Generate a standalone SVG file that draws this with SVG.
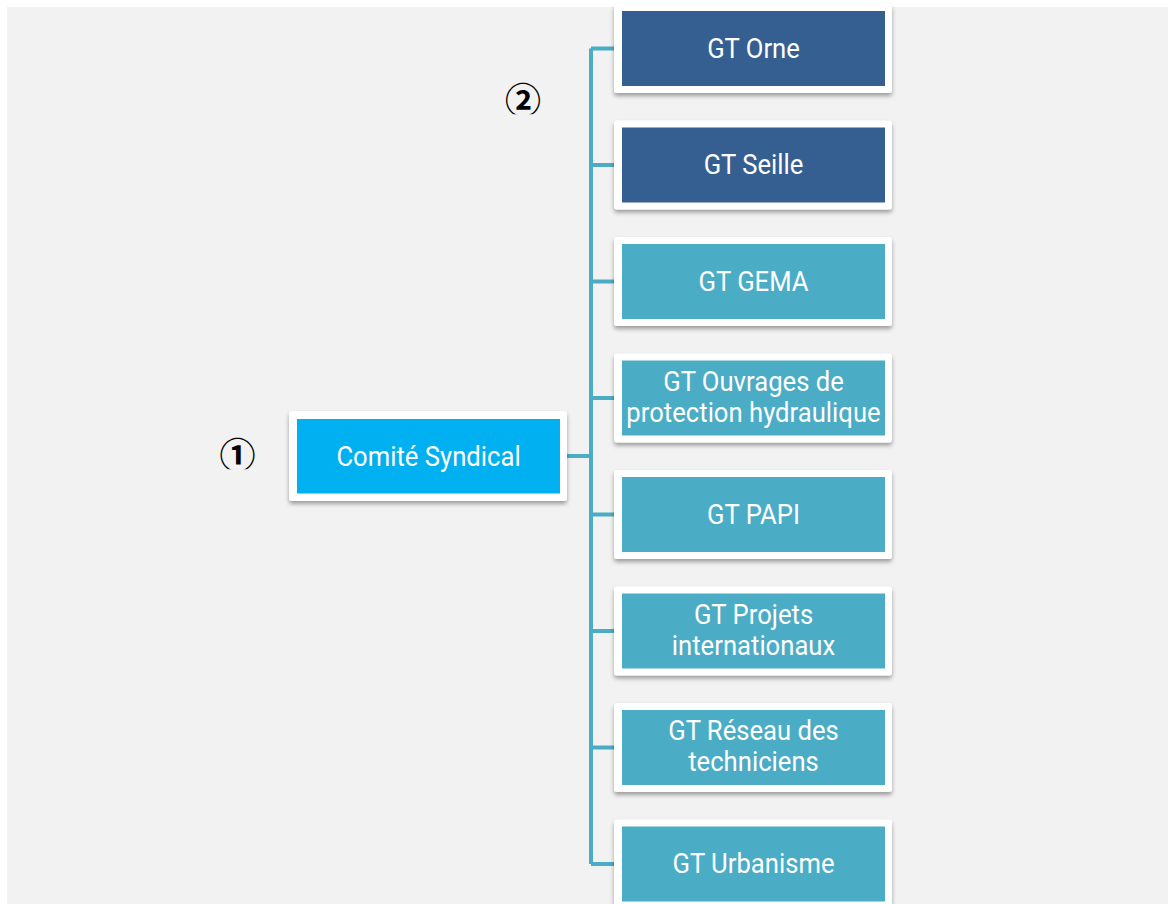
<svg xmlns="http://www.w3.org/2000/svg" width="1168" height="904" viewBox="0 0 1168 904">
<defs>
<style>
.frame{fill:#ffffff;filter:url(#sh)}
.dark{fill:#365f91}
.light{fill:#4bacc6}
.top{fill:#00b0f0}
.lbl{font-family:Roboto,"Liberation Sans",sans-serif;font-size:27px;fill:#ffffff;text-anchor:middle}
.num{font-family:"Noto Sans CJK SC","DejaVu Sans",sans-serif;font-size:36px;font-weight:bold;fill:#000000;text-anchor:middle}
.con{fill:none;stroke:#4bacc6;stroke-width:4}
</style>
<filter id="sh" x="-10%" y="-10%" width="120%" height="130%">
<feDropShadow dx="0" dy="3" stdDeviation="2" flood-color="#000000" flood-opacity="0.35"/>
</filter>
<clipPath id="c1"><rect x="200" y="420" width="80" height="49.3"/></clipPath>
<clipPath id="c2"><rect x="485" y="60" width="80" height="54.3"/></clipPath>
</defs>
<rect x="0" y="0" width="1168" height="904" fill="#ffffff"/>
<rect x="7" y="7" width="1161" height="897" fill="#f2f2f2"/>

<g id="connectors">
<path class="con" d="M591 48.5 V864 M591 48.5 H614 M591 165 H614 M591 281.5 H614 M591 398 H614 M591 514.5 H614 M591 631 H614 M591 747.5 H614 M591 864 H614 M567 456 H591"/>
</g>

<g id="marker1" clip-path="url(#c1)"><text class="num" x="237.5" y="469">①</text></g>
<g id="marker2" clip-path="url(#c2)"><text class="num" x="523" y="114">②</text></g>

<g id="comite">
<rect class="frame" x="289" y="411" width="278" height="90" rx="3"/>
<rect class="top" x="297" y="419" width="263" height="74.5"/>
<text class="lbl" transform="translate(428.5 465.5) scale(0.95 1)">Comité Syndical</text>
</g>

<g id="gt-orne">
<rect class="frame" x="614" y="4" width="278" height="89" rx="3"/>
<rect class="dark" x="622" y="11" width="263" height="75"/>
<text class="lbl" transform="translate(753.5 57.5) scale(0.95 1)">GT Orne</text>
</g>

<g id="gt-seille">
<rect class="frame" x="614" y="120.5" width="278" height="89" rx="3"/>
<rect class="dark" x="622" y="127.5" width="263" height="75"/>
<text class="lbl" transform="translate(753.5 174) scale(0.95 1)">GT Seille</text>
</g>

<g id="gt-gema">
<rect class="frame" x="614" y="237" width="278" height="89" rx="3"/>
<rect class="light" x="622" y="244" width="263" height="75"/>
<text class="lbl" transform="translate(753.5 290.5) scale(0.95 1)">GT GEMA</text>
</g>

<g id="gt-ouvrages">
<rect class="frame" x="614" y="353.5" width="278" height="89" rx="3"/>
<rect class="light" x="622" y="360.5" width="263" height="75"/>
<text class="lbl" transform="translate(753.5 390.5) scale(0.95 1)">GT Ouvrages de</text>
<text class="lbl" transform="translate(753.5 421.5) scale(0.95 1)">protection hydraulique</text>
</g>

<g id="gt-papi">
<rect class="frame" x="614" y="470" width="278" height="89" rx="3"/>
<rect class="light" x="622" y="477" width="263" height="75"/>
<text class="lbl" transform="translate(753.5 523.5) scale(0.95 1)">GT PAPI</text>
</g>

<g id="gt-projets">
<rect class="frame" x="614" y="586.5" width="278" height="89" rx="3"/>
<rect class="light" x="622" y="593.5" width="263" height="75"/>
<text class="lbl" transform="translate(753.5 623.5) scale(0.95 1)">GT Projets</text>
<text class="lbl" transform="translate(753.5 654.5) scale(0.95 1)">internationaux</text>
</g>

<g id="gt-reseau">
<rect class="frame" x="614" y="703" width="278" height="89" rx="3"/>
<rect class="light" x="622" y="710" width="263" height="75"/>
<text class="lbl" transform="translate(753.5 740) scale(0.95 1)">GT Réseau des</text>
<text class="lbl" transform="translate(753.5 771) scale(0.95 1)">techniciens</text>
</g>

<g id="gt-urbanisme">
<rect class="frame" x="614" y="819.5" width="278" height="89" rx="3"/>
<rect class="light" x="622" y="826.5" width="263" height="75"/>
<text class="lbl" transform="translate(753.5 873) scale(0.95 1)">GT Urbanisme</text>
</g>
</svg>
